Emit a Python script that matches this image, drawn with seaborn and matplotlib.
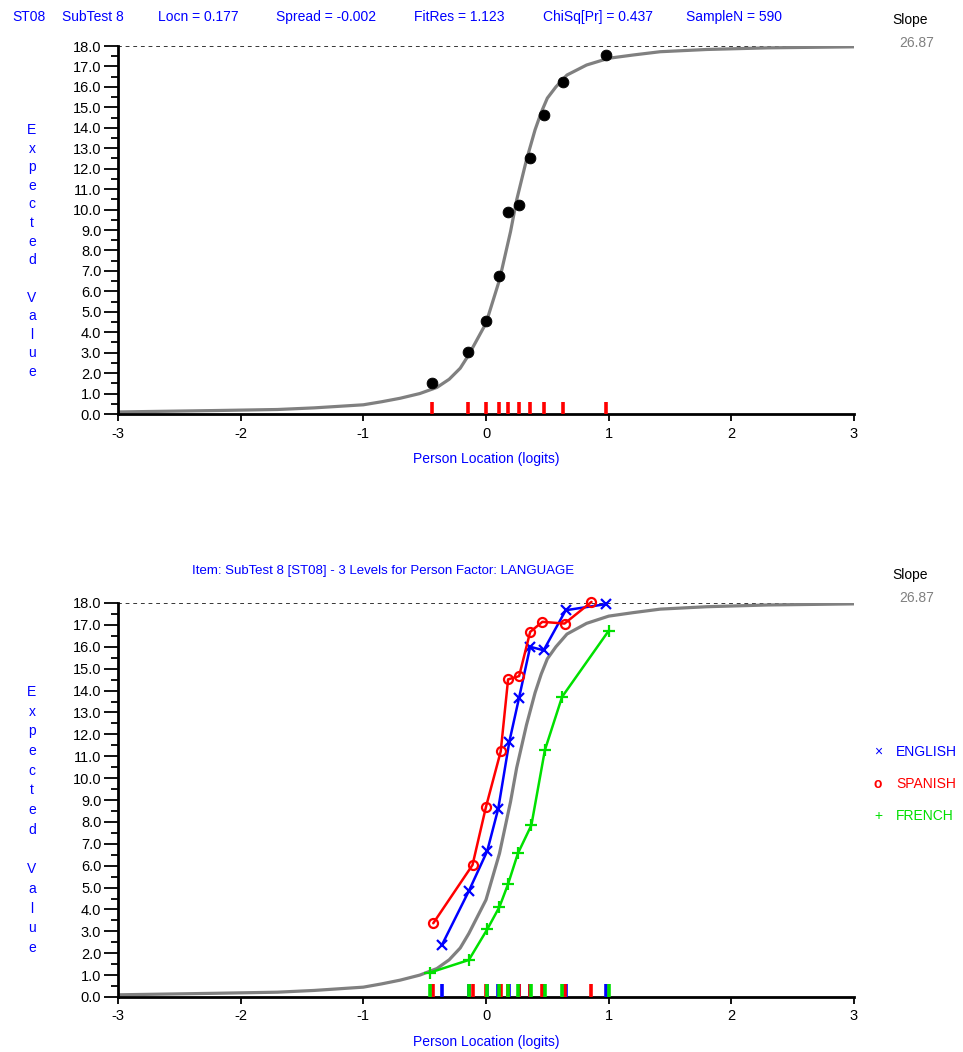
import numpy as np
import pandas as pd
import matplotlib
matplotlib.use("Agg")
import matplotlib.pyplot as plt
import seaborn as sns
from matplotlib.ticker import MultipleLocator

sns.set_theme(style="white")
plt.rcParams['font.family'] = ['Liberation Sans', 'DejaVu Sans']

# ---------------- data ----------------
# model expected-value curve
curve_x = [-3.0, -2.2, -1.7, -1.4, -1.0, -0.85, -0.7, -0.54, -0.4, -0.3, -0.21, -0.14, 0.0,
           0.11, 0.2, 0.25, 0.33, 0.4, 0.45, 0.5, 0.57, 0.66, 0.82, 1.0, 1.2, 1.42, 1.8, 2.3, 3.0]
curve_y = [0.10, 0.17, 0.22, 0.30, 0.45, 0.60, 0.77, 1.00, 1.30, 1.70, 2.24, 2.90, 4.44,
           6.56, 8.92, 10.47, 12.43, 13.90, 14.75, 15.45, 16.00, 16.58, 17.07, 17.40, 17.56,
           17.72, 17.83, 17.91, 17.96]

# class-interval observed means (top panel)
class_x = [-0.44, -0.15, 0.0, 0.11, 0.18, 0.27, 0.36, 0.47, 0.63, 0.98]
class_y = [1.50, 3.05, 4.55, 6.75, 9.90, 10.24, 12.52, 14.64, 16.23, 17.58]

# person-factor groups (bottom panel)
groups = ["ENGLISH", "SPANISH", "FRENCH"]
english_x = [-0.36, -0.14, 0.01, 0.10, 0.19, 0.27, 0.36, 0.47, 0.65, 0.98]
english_y = [2.37, 4.84, 6.67, 8.61, 11.66, 13.68, 16.00, 15.84, 17.67, 17.95]
spanish_x = [-0.43, -0.11, 0.0, 0.12, 0.18, 0.27, 0.36, 0.46, 0.64, 0.86]
spanish_y = [3.37, 6.03, 8.69, 11.22, 14.51, 14.66, 16.68, 17.14, 17.06, 18.05]
french_x = [-0.46, -0.14, 0.01, 0.11, 0.18, 0.26, 0.37, 0.48, 0.62, 1.00]
french_y = [1.11, 1.69, 3.09, 4.12, 5.16, 6.56, 7.85, 11.28, 13.71, 16.73]

max_score = 18
x_ticks = [-3, -2, -1, 0, 1, 2, 3]
y_ticks = list(range(0, 19))

header_parts = ["ST08", "SubTest 8", "Locn = 0.177", "Spread = -0.002", "FitRes = 1.123",
                "ChiSq[Pr] = 0.437", "SampleN = 590"]
slope_value = "26.87"
bottom_title = "Item: SubTest 8 [ST08] - 3 Levels for Person Factor: LANGUAGE"

# ---------------- figure ----------------
W, H = 963, 1052
fig = plt.figure(figsize=(W / 100, H / 100), dpi=100)
fig.patch.set_facecolor("white")

def px_rect(left, top, right, bottom):
    return [left / W, 1 - bottom / H, (right - left) / W, (bottom - top) / H]

ax1 = fig.add_axes(px_rect(118, 46, 854, 414))
ax2 = fig.add_axes(px_rect(118, 603, 854, 997))

BLUE = "#0000ff"
RED = "#ff0000"
GREEN = "#00e000"
GRAY = "#808080"

def setup(ax):
    ax.set_xlim(-3, 3)
    ax.set_ylim(0, max_score)
    ax.set_facecolor("white")
    ax.grid(False)
    for s in ["top", "right"]:
        ax.spines[s].set_visible(False)
    for s in ["left", "bottom"]:
        ax.spines[s].set_linewidth(2)
        ax.spines[s].set_color("black")
    ax.set_xticks(x_ticks)
    ax.set_xticklabels([str(t) for t in x_ticks])
    ax.set_yticks(y_ticks)
    ax.set_yticklabels([f"{t:.1f}" for t in y_ticks])
    ax.yaxis.set_minor_locator(MultipleLocator(0.5))
    ax.tick_params(axis="y", which="major", direction="out", length=10, width=1.3,
                   colors="black", labelsize=10.5, pad=2, left=True)
    ax.tick_params(axis="y", which="minor", direction="out", length=5, width=1.3,
                   colors="black", left=True)
    ax.tick_params(axis="x", which="major", direction="out", length=5, width=1.3,
                   colors="black", labelsize=10.5, pad=4, bottom=True)
    ax.axhline(max_score, color="black", lw=1.1, ls=(0, (2.5, 2.5)), zorder=1)

def finish(ax):
    ax.set_xlabel("Person Location (logits)", color=BLUE, fontsize=10, labelpad=8)
    ax.set_ylabel("")

curve_df = pd.DataFrame({"x": curve_x, "y": curve_y})

# ---- top panel ----
setup(ax1)
sns.lineplot(data=curve_df, x="x", y="y", ax=ax1, color=GRAY, lw=2.3, sort=False, zorder=2)
sns.scatterplot(x=class_x, y=class_y, ax=ax1, color="black", s=60, edgecolor="black",
                zorder=4, clip_on=False)
sns.rugplot(x=class_x, ax=ax1, color=RED, height=0.033, linewidth=2.6, clip_on=False, zorder=3)
finish(ax1)

# ---- bottom panel ----
setup(ax2)
sns.lineplot(data=curve_df, x="x", y="y", ax=ax2, color=GRAY, lw=2.3, sort=False, zorder=2)
sns.lineplot(x=french_x, y=french_y, ax=ax2, color=GREEN, lw=1.8, marker="+",
             markersize=8, markeredgewidth=1.6, markeredgecolor=GREEN,
             zorder=3, sort=False, clip_on=False)
sns.lineplot(x=english_x, y=english_y, ax=ax2, color=BLUE, lw=1.8, marker="x",
             markersize=7, markeredgewidth=1.6, markeredgecolor=BLUE,
             zorder=4, sort=False, clip_on=False)
sns.lineplot(x=spanish_x, y=spanish_y, ax=ax2, color=RED, lw=1.8, marker="o",
             markersize=6.5, markerfacecolor="none", markeredgecolor=RED,
             markeredgewidth=1.6, zorder=5, sort=False, clip_on=False)
sns.rugplot(x=english_x, ax=ax2, color=BLUE, height=0.033, linewidth=2.6, clip_on=False, zorder=3)
sns.rugplot(x=spanish_x, ax=ax2, color=RED, height=0.033, linewidth=2.6, clip_on=False, zorder=3)
sns.rugplot(x=french_x, ax=ax2, color=GREEN, height=0.033, linewidth=2.6, clip_on=False, zorder=3)
finish(ax2)

# ---------------- texts ----------------
header_x = [12, 62, 158, 276, 414, 543, 686]
for txt, xp in zip(header_parts, header_x):
    fig.text(xp / W, 1 - 17 / H, txt, color=BLUE, fontsize=10, ha="left", va="center")

for ys, yv in [(20, 43), (575, 598)]:
    fig.text(910 / W, 1 - ys / H, "Slope", color="black", fontsize=10, ha="center", va="center")
    fig.text(917 / W, 1 - yv / H, slope_value, color=GRAY, fontsize=10, ha="center", va="center")

fig.text(383 / W, 1 - 571 / H, bottom_title, color=BLUE, fontsize=9.5, ha="center", va="center")

letters = list("Expected") + [""] + list("Value")
for y0, y1 in [(130, 372), (692, 948)]:
    step = (y1 - y0) / (len(letters) - 1)
    for i, ch in enumerate(letters):
        if ch:
            fig.text(32 / W, 1 - (y0 + i * step) / H, ch, color=BLUE, fontsize=10,
                     ha="center", va="center")

legend_items = [("\u00d7", "ENGLISH", BLUE, "normal"), ("o", "SPANISH", RED, "bold"),
                ("+", "FRENCH", GREEN, "normal")]
for i, (sym, name, col, wt) in enumerate(legend_items):
    yy = 1 - (752 + 32 * i) / H
    fig.text(878 / W, yy, sym, color=col, fontsize=10, ha="center", va="center", fontweight=wt)
    fig.text(896 / W, yy, name, color=col, fontsize=10, ha="left", va="center")

fig.savefig("out.png", dpi=100, facecolor="white")
